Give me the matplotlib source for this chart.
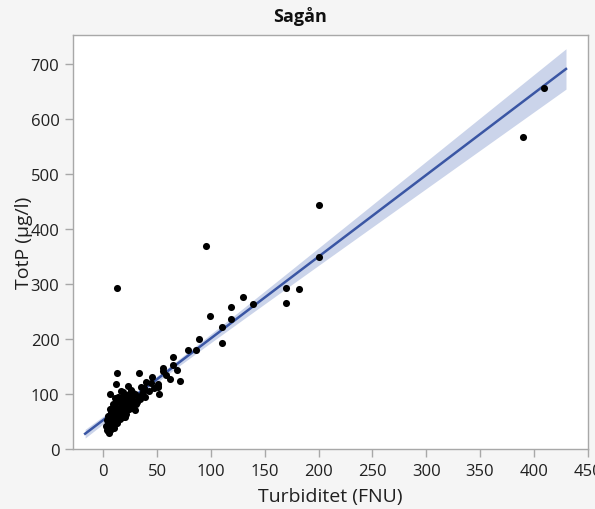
import numpy as np
import matplotlib
import matplotlib.pyplot as plt

matplotlib.use("Agg")

# turbidity (FNU) and total phosphorus (ug/l), one entry per sample
turbidity = [
    13, 95, 200, 200, 170, 182, 170, 390, 410, 130, 139, 119, 119, 99, 110,
    110, 89, 79, 86, 65, 65, 68, 55, 55, 71, 45, 51, 51,
    13, 33, 12, 23, 16, 27, 40, 42, 51, 52, 6, 39, 31, 23, 20,
    3, 4, 4, 4, 5, 5, 5, 5, 6, 6, 6, 6, 7, 7, 7, 7, 8, 8, 8, 8, 9, 9, 9,
    10, 10, 10, 10, 11, 11, 11, 12, 12, 12, 13, 13, 13, 14, 14, 14, 15, 15,
    15, 16, 16, 17, 17, 18, 18, 19, 19, 20, 20, 21, 22, 22, 23, 24, 24, 25,
    26, 27, 28, 29, 30, 32, 34, 36, 38, 44, 47, 58, 62,
    2, 3, 4, 6, 9, 11, 18, 21, 26, 29, 35, 37,
]
totp = [
    292, 368, 444, 349, 292, 291, 266, 567, 655, 276, 264, 258, 236, 241, 222,
    192, 199, 180, 180, 167, 152, 144, 147, 142, 124, 130, 118, 115,
    138, 138, 119, 115, 106, 103, 122, 106, 112, 100, 100, 95, 85, 73, 58,
    35, 32, 40, 45, 30, 38, 48, 55, 34, 42, 50, 62, 36, 45, 52, 68, 40, 47,
    58, 75, 44, 55, 65, 38, 50, 60, 80, 46, 56, 70, 52, 64, 88, 48, 60, 75,
    58, 68, 95, 55, 72, 85, 62, 78, 66, 90, 58, 74, 82, 98, 70, 88, 64, 78,
    92, 85, 72, 100, 80, 92, 75, 88, 100, 82, 95, 90, 100, 110, 120, 110,
    135, 128,
    42, 52, 60, 72, 82, 92, 104, 96, 108, 70, 112, 104,
]

x = np.array(turbidity, dtype=float)
y = np.array(totp, dtype=float)

# least squares line with 95 % confidence band for the mean
slope, icept = np.polyfit(x, y, 1)
n = len(x)
resid = y - (icept + slope * x)
s = np.sqrt(np.sum(resid ** 2) / (n - 2))
sxx = np.sum((x - x.mean()) ** 2)
xf = np.linspace(-17, 430, 200)
yf = icept + slope * xf
half = 1.98 * s * np.sqrt(1 / n + (xf - x.mean()) ** 2 / sxx)

plt.rcParams["font.family"] = ["Open Sans", "DejaVu Sans"]

fig = plt.figure(figsize=(5.95, 5.10), dpi=100, facecolor="#f5f5f5")
ax = fig.add_axes([0.1232, 0.1176, 0.8642, 0.8118])
ax.set_facecolor("white")

ax.fill_between(xf, yf - half, yf + half, color="#cbd4ea", lw=0, zorder=1)
ax.plot(xf, yf, color="#3a56a4", lw=1.8, zorder=2)
ax.scatter(x, y, s=26, color="black", lw=0, zorder=3)

ax.set_xlim(-28, 450)
ax.set_ylim(0, 752)
ax.set_xticks(np.arange(0, 451, 50))
ax.set_yticks(np.arange(0, 701, 100))

for sp in ax.spines.values():
    sp.set_color("#a8a8a8")
    sp.set_linewidth(1)
ax.tick_params(direction="out", length=6, width=1, color="#a8a8a8",
               labelsize=12, labelcolor="#202020", pad=4)

ax.set_xlabel("Turbiditet (FNU)", fontsize=14, color="#202020", labelpad=6)
ax.set_ylabel("TotP (µg/l)", fontsize=14, color="#202020", labelpad=-2)
fig.text(0.505, 0.967, "Sagån", ha="center", va="center",
         fontsize=13, fontweight="bold", color="#101010")

fig.savefig("out.png", dpi=100, facecolor=fig.get_facecolor())
